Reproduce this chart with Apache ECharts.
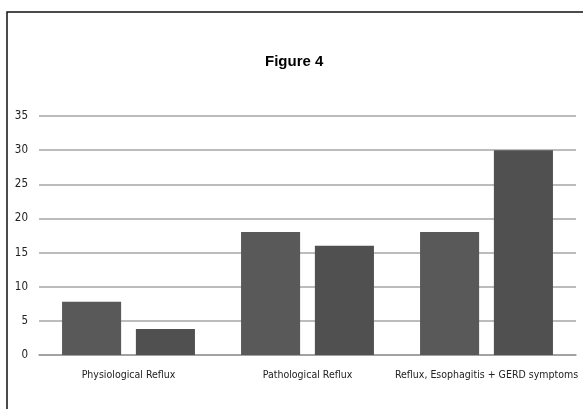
<!DOCTYPE html>
<html><head><meta charset="utf-8">
<script src="https://cdn.jsdelivr.net/npm/echarts@6/dist/echarts.min.js"></script>
<style>html,body{margin:0;padding:0;background:#fff}#c{width:583px;height:409px}</style>
</head><body><div id="c"></div>
<script>
const categories = ['Physiological Reflux', 'Pathological Reflux', 'Reflux, Esophagitis + GERD symptoms'];
const seriesA = [7.8, 18, 18];
const seriesB = [3.8, 16, 30];
const yTicks = {min: 0, max: 35, interval: 5};

const chart = echarts.init(document.getElementById('c'), null, {renderer: 'canvas'});
chart.setOption({
  animation: false,
  backgroundColor: '#fff',
  title: {text: 'Figure 4', left: 260, top: 49,
    textStyle: {fontFamily: 'Liberation Sans', fontWeight: 'bold', fontSize: 15, color: '#000'}},
  graphic: [{type: 'polyline', shape: {points: [[7, 409], [7, 12], [583, 12]]},
    style: {stroke: '#111', lineWidth: 1.5, fill: null}}],
  grid: {left: 39, right: 7, top: 116, bottom: 54},
  xAxis: {type: 'category', data: categories,
    axisLine: {lineStyle: {color: '#999', width: 1.5}}, axisTick: {show: false},
    axisLabel: {fontFamily: 'DejaVu Sans Condensed', fontSize: 10.5, color: '#222', margin: 15, interval: 0}},
  yAxis: {type: 'value', min: yTicks.min, max: yTicks.max, interval: yTicks.interval,
    axisLine: {show: false}, axisTick: {show: false},
    axisLabel: {fontFamily: 'DejaVu Sans Condensed', fontSize: 11.5, color: '#222', margin: 11},
    splitLine: {lineStyle: {color: '#a6a6a6', width: 1.5}}},
  series: [
    {type: 'bar', data: seriesA, barWidth: '33%', barGap: '25%', itemStyle: {color: '#595959'}},
    {type: 'bar', data: seriesB, barWidth: '33%', itemStyle: {color: '#505050'}}
  ]
});
</script></body></html>
